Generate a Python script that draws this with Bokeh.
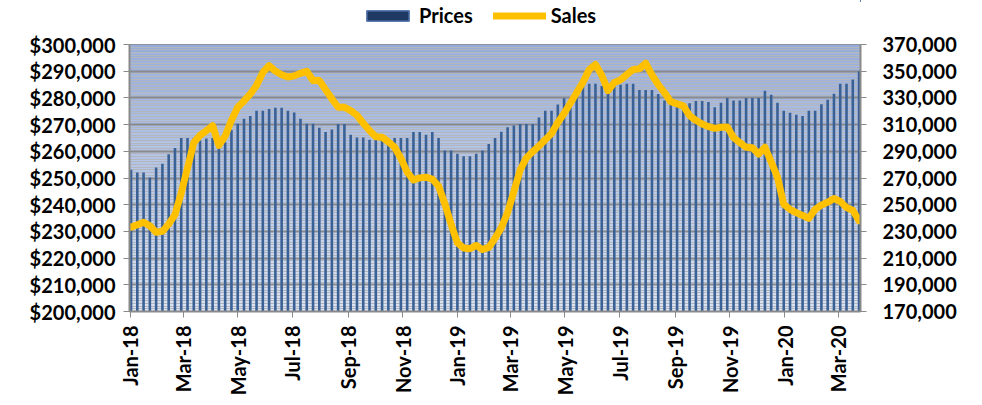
import numpy as np
import pandas as pd
from bokeh.plotting import figure
from bokeh.layouts import column
from bokeh.models import (Range1d, LinearAxis, SingleIntervalTicker, FixedTicker, NumeralTickFormatter,
                          DatetimeTickFormatter, MonthsTicker, Legend, LegendItem, ColumnDataSource)
from bokeh.embed import file_html
from bokeh.resources import INLINE

# ---------------- data (weekly) ----------------
WEEK_START = "2018-01-02"
prices = [
    253100, 252100, 252100, 250200, 253900, 255300, 258900, 261200, 265000, 265000,
    265000, 264000, 264800, 265000, 262000, 263400, 268000, 270300, 272200, 273200,
    275200, 275200, 275800, 276300, 276300, 275200, 274500, 272200, 270300, 270300,
    268800, 267200, 268200, 270200, 270200, 266200, 265200, 265200, 264300, 265200,
    264500, 263500, 265000, 265000, 265000, 267200, 267200, 266200, 267200, 265000,
    260300, 260300, 259100, 258100, 258100, 259100, 260300, 262700, 265000, 267300,
    269000, 269700, 270200, 270200, 270200, 272700, 275200, 275200, 277500, 279900,
    279900, 283400, 285300, 285300, 285300, 284500, 284000, 284300, 284900, 285300,
    285300, 283000, 283000, 283000, 281500, 279000, 278400, 279000, 277500, 278000,
    278800, 278800, 278500, 276500, 278200, 280000, 279000, 279000, 280000, 280000,
    280000, 282700, 281200, 278200, 275200, 274400, 273700, 273200, 275200, 275200,
    277600, 279300, 281600, 285300, 285300, 286900, 290000,
]
sales = [
    233200, 235000, 236800, 234200, 229400, 230000, 235500, 242500, 258800, 277500,
    296500, 301900, 305400, 309200, 294400, 301500, 313300, 323000, 327700, 332900,
    339300, 349100, 354200, 350100, 347400, 345700, 346500, 348400, 350000, 343000,
    343000, 336200, 329300, 323000, 323000, 320500, 317000, 311000, 305600, 300900,
    300600, 297100, 293100, 284800, 274400, 268500, 270100, 270600, 269200, 264000,
    250700, 235300, 221400, 217600, 217000, 219500, 216400, 218000, 224800, 232800,
    244100, 259900, 276000, 285200, 289700, 293900, 298600, 303300, 311600, 318400,
    326000, 333900, 341700, 351200, 355000, 347000, 335500, 341500, 343500, 347500,
    351200, 351800, 356000, 347300, 339900, 334000, 327200, 325500, 324000, 316700,
    313200, 310500, 308500, 307200, 308000, 308200, 300300, 296500, 293000, 292600,
    288000, 293000, 282000, 270600, 250300, 246500, 244000, 242000, 239800, 246500,
    249700, 251900, 254600, 252500, 247800, 245800, 238000,
]
price_axis = (200000, 300000, 10000)
sales_ticks = [170000, 190000, 210000, 230000, 250000, 270000, 290000, 310000, 330000, 350000, 370000]
series_names = ["Prices", "Sales"]

dates = pd.date_range(start=WEEK_START, periods=len(prices), freq="7D")
src = ColumnDataSource(dict(date=dates, price=prices, sales=sales))

FONT = "Lato"
BAR = "#3a6196"
LINE = "#ffc000"
GRID_MAJOR = "#8a8a8a"
GRID_MINOR = "#b4b6be"
W = 982
LEG_H = 30

MS_DAY = 86400000.0
x0 = dates[0].value / 1e6 - 1.7 * MS_DAY
x1 = dates[-1].value / 1e6 + 1.6 * MS_DAY

p = figure(width=W, height=405 - LEG_H, x_axis_type="datetime", output_backend="svg",
           toolbar_location=None, x_range=Range1d(x0, x1),
           y_range=Range1d(price_axis[0], price_axis[1]),
           min_border_left=129, min_border_right=122, min_border_top=44 - LEG_H, min_border_bottom=94)
p.background_fill_color = "#c4d2ec"
p.border_fill_color = "white"
p.outline_line_color = GRID_MAJOR
p.outline_line_width = 1

# gradient background bands (computed from the axis range)
nb = 60
edges = np.linspace(price_axis[0], price_axis[1], nb + 1)
top_c = np.array([0x96, 0xac, 0xda])
bot_c = np.array([0xdb, 0xe4, 0xf4])
cols = []
for k in range(nb):
    t = (k + 0.5) / nb
    c = (bot_c * (1 - t) + top_c * t).astype(int)
    cols.append("#%02x%02x%02x" % tuple(c))
p.quad(left=[x0] * nb, right=[x1] * nb, bottom=list(edges[:-1]), top=list(edges[1:]),
       fill_color=cols, line_color=None, level="image")

# left axis / grid
lt = SingleIntervalTicker(interval=price_axis[2], num_minor_ticks=10)
p.yaxis.ticker = lt
p.ygrid.ticker = lt
p.yaxis.formatter = NumeralTickFormatter(format="$0,0")
p.ygrid.grid_line_color = GRID_MAJOR
p.ygrid.grid_line_width = 2
p.ygrid.minor_grid_line_color = GRID_MINOR
p.ygrid.minor_grid_line_width = 1
p.xgrid.grid_line_color = None

# bars
p.vbar(x="date", top="price", bottom=price_axis[0], width=2.9 * MS_DAY, source=src,
       fill_color=BAR, line_color=None)

# right axis + line
p.extra_y_ranges = {"sales": Range1d(sales_ticks[0], sales_ticks[-1])}
ra = LinearAxis(y_range_name="sales", ticker=FixedTicker(ticks=sales_ticks),
                formatter=NumeralTickFormatter(format="0,0"))
p.add_layout(ra, "right")
p.line(x="date", y="sales", source=src, y_range_name="sales", line_color=LINE,
       line_width=7, line_join="round", line_cap="round")

# x axis
p.xaxis.ticker = MonthsTicker(months=[0, 2, 4, 6, 8, 10])
p.xaxis.formatter = DatetimeTickFormatter(months="%b-%y", days="%b-%y", years="%b-%y")
p.xaxis.major_label_orientation = np.pi / 2

for ax in [p.xaxis[0], p.yaxis[0], ra]:
    ax.axis_line_color = GRID_MAJOR
    ax.axis_line_width = 2
    ax.major_tick_line_color = GRID_MAJOR
    ax.major_tick_line_width = 1
    ax.major_tick_in = 0
    ax.major_tick_out = 6
    ax.minor_tick_line_color = None
    ax.major_label_text_font = FONT
    ax.major_label_text_font_style = "bold"
    ax.major_label_text_font_size = "20px"
    ax.major_label_text_color = "black"
p.yaxis[0].major_label_standoff = 8
ra.major_label_standoff = 16
p.xaxis.major_label_standoff = 8

# ---------------- legend strip: series drawn outside this strip's ranges, only the legend shows ----
vmax = float(max(max(prices), max(sales)))
lg = figure(width=W, height=LEG_H, output_backend="svg", toolbar_location=None,
            x_range=Range1d(-vmax, 0), y_range=Range1d(-vmax, 0),
            x_axis_location=None, y_axis_location=None,
            min_border_left=0, min_border_right=0, min_border_top=0, min_border_bottom=0)
lg.outline_line_color = None
lg.grid.grid_line_color = None
lg.background_fill_color = "white"
r_bar = lg.vbar(x="price", top="price", width=1, source=src,
                fill_color="#1f3864", line_color="#5a7db3", line_width=1.5)
r_line = lg.line(x="sales", y="sales", source=src, line_color=LINE, line_width=7, line_cap="round")
legend = Legend(items=[LegendItem(label=series_names[0], renderers=[r_bar]),
                       LegendItem(label=series_names[1], renderers=[r_line])],
                orientation="horizontal", location=(232, 3),
                label_text_font=FONT, label_text_font_style="bold", label_text_font_size="20px",
                label_text_color="black",
                glyph_width=53, glyph_height=13, label_standoff=5, spacing=20,
                padding=0, margin=0, border_line_color=None, background_fill_alpha=0)
lg.add_layout(legend, "center")

layout = column(lg, p, spacing=0)
open("out.html", "w").write(file_html(layout, INLINE))
